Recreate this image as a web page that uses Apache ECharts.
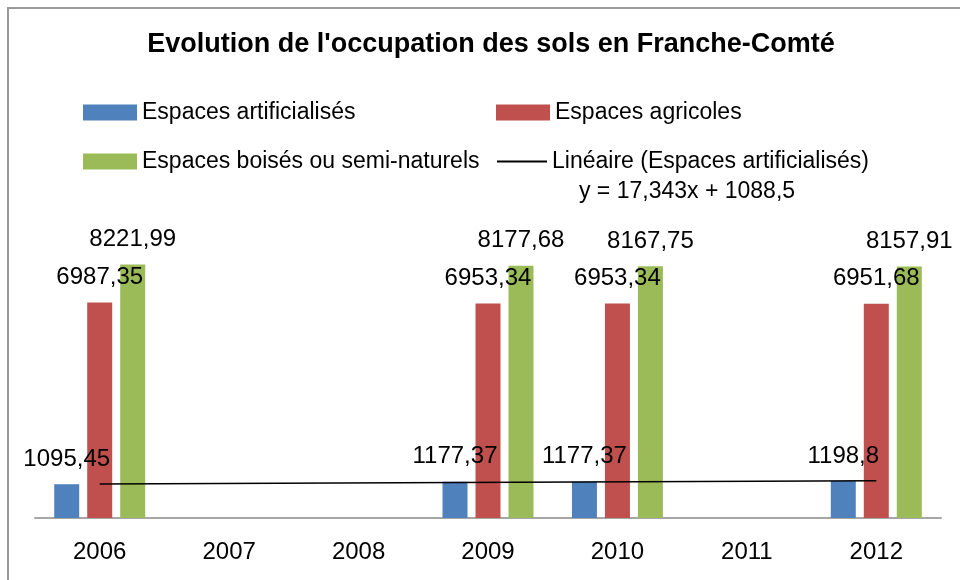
<!DOCTYPE html>
<html>
<head>
<meta charset="utf-8">
<script src="https://cdn.jsdelivr.net/npm/echarts@6/dist/echarts.min.js"></script>
<style>
  html, body { margin: 0; padding: 0; background: #fff; }
  #chart { width: 960px; height: 580px; }
</style>
</head>
<body>
<div id="chart"></div>
<script>
// ---- Data ----
const titleText = "Evolution de l'occupation des sols en Franche-Comté";
const years = ['2006', '2007', '2008', '2009', '2010', '2011', '2012'];
const artificialises = [1095.45, null, null, 1177.37, 1177.37, null, 1198.8];
const agricoles = [6987.35, null, null, 6953.34, 6953.34, null, 6951.68];
const boises = [8221.99, null, null, 8177.68, 8167.75, null, 8157.91];
// Linear trendline endpoints (Excel trend of "Espaces artificialisés": y = 17,343x + 1088,5)
const trendLine = [1105.8, null, null, null, null, null, 1209.9];
const trendEquation = 'y = 17,343x + 1088,5';
const seriesNames = ['Espaces artificialisés', 'Espaces agricoles', 'Espaces boisés ou semi-naturels', 'Linéaire (Espaces artificialisés)'];

const FONT = "'Liberation Sans', Arial, sans-serif";
const fmt = p => (p.value == null ? '' : String(p.value).replace('.', ','));

const labelStyle = {
  show: true,
  position: 'top',
  distance: 13,
  fontFamily: FONT,
  fontSize: 24,
  color: '#000',
  formatter: fmt
};

const chart = echarts.init(document.getElementById('chart'), null, { renderer: 'canvas' });

const legendBase = {
  orient: 'horizontal',
  padding: 0,
  itemWidth: 54,
  itemHeight: 16,
  icon: 'rect',
  selectedMode: false,
  textStyle: { fontFamily: FONT, fontSize: 23, color: '#000' }
};

chart.setOption({
  animation: false,
  backgroundColor: '#fff',
  title: [
    {
      text: titleText,
      left: 491,
      top: 31,
      padding: 0,
      textAlign: 'center',
      textStyle: { fontFamily: FONT, fontSize: 27, fontWeight: 'bold', color: '#000' }
    },
    {
      text: trendEquation,
      left: 687,
      top: 180,
      padding: 0,
      textAlign: 'center',
      textStyle: { fontFamily: FONT, fontSize: 23, fontWeight: 'normal', color: '#000' }
    }
  ],
  legend: [
    Object.assign({}, legendBase, { left: 83, top: 101, data: [seriesNames[0]] }),
    Object.assign({}, legendBase, { left: 496, top: 101, data: [seriesNames[1]] }),
    Object.assign({}, legendBase, { left: 83, top: 150, data: [seriesNames[2]] }),
    Object.assign({}, legendBase, { left: 497, top: 150, itemWidth: 50, itemHeight: 2, data: [seriesNames[3]] })
  ],
  grid: { left: 35, right: 19, top: 240.5, bottom: 62 },
  xAxis: {
    type: 'category',
    data: years,
    boundaryGap: true,
    axisLine: { show: true, lineStyle: { color: '#a6a6a6', width: 2 } },
    axisTick: { show: false },
    axisLabel: { fontFamily: FONT, fontSize: 24, color: '#000', margin: 22 },
    splitLine: { show: false }
  },
  yAxis: {
    type: 'value',
    min: 0,
    max: 9000,
    show: false,
    splitLine: { show: false }
  },
  series: [
    {
      name: seriesNames[0], type: 'bar', data: artificialises,
      barWidth: 25, barGap: '32%',
      itemStyle: { color: '#4F81BD' }, label: labelStyle, z: 2
    },
    {
      name: seriesNames[1], type: 'bar', data: agricoles,
      barWidth: 25, barGap: '32%',
      itemStyle: { color: '#C0504D' }, label: labelStyle, z: 2
    },
    {
      name: seriesNames[2], type: 'bar', data: boises,
      barWidth: 25, barGap: '32%',
      itemStyle: { color: '#9BBB59' }, label: labelStyle, z: 2
    },
    {
      name: seriesNames[3], type: 'line', data: trendLine,
      connectNulls: true, symbol: 'none', showSymbol: false,
      lineStyle: { color: '#000', width: 1.5 },
      itemStyle: { color: '#000' },
      z: 3
    }
  ],
  graphic: [
    {
      type: 'rect',
      shape: { x: 8, y: 8, width: 1000, height: 1000 },
      style: { fill: 'none', stroke: '#9a9a9a', lineWidth: 2 },
      silent: true,
      z: 100
    }
  ]
});
</script>
</body>
</html>
